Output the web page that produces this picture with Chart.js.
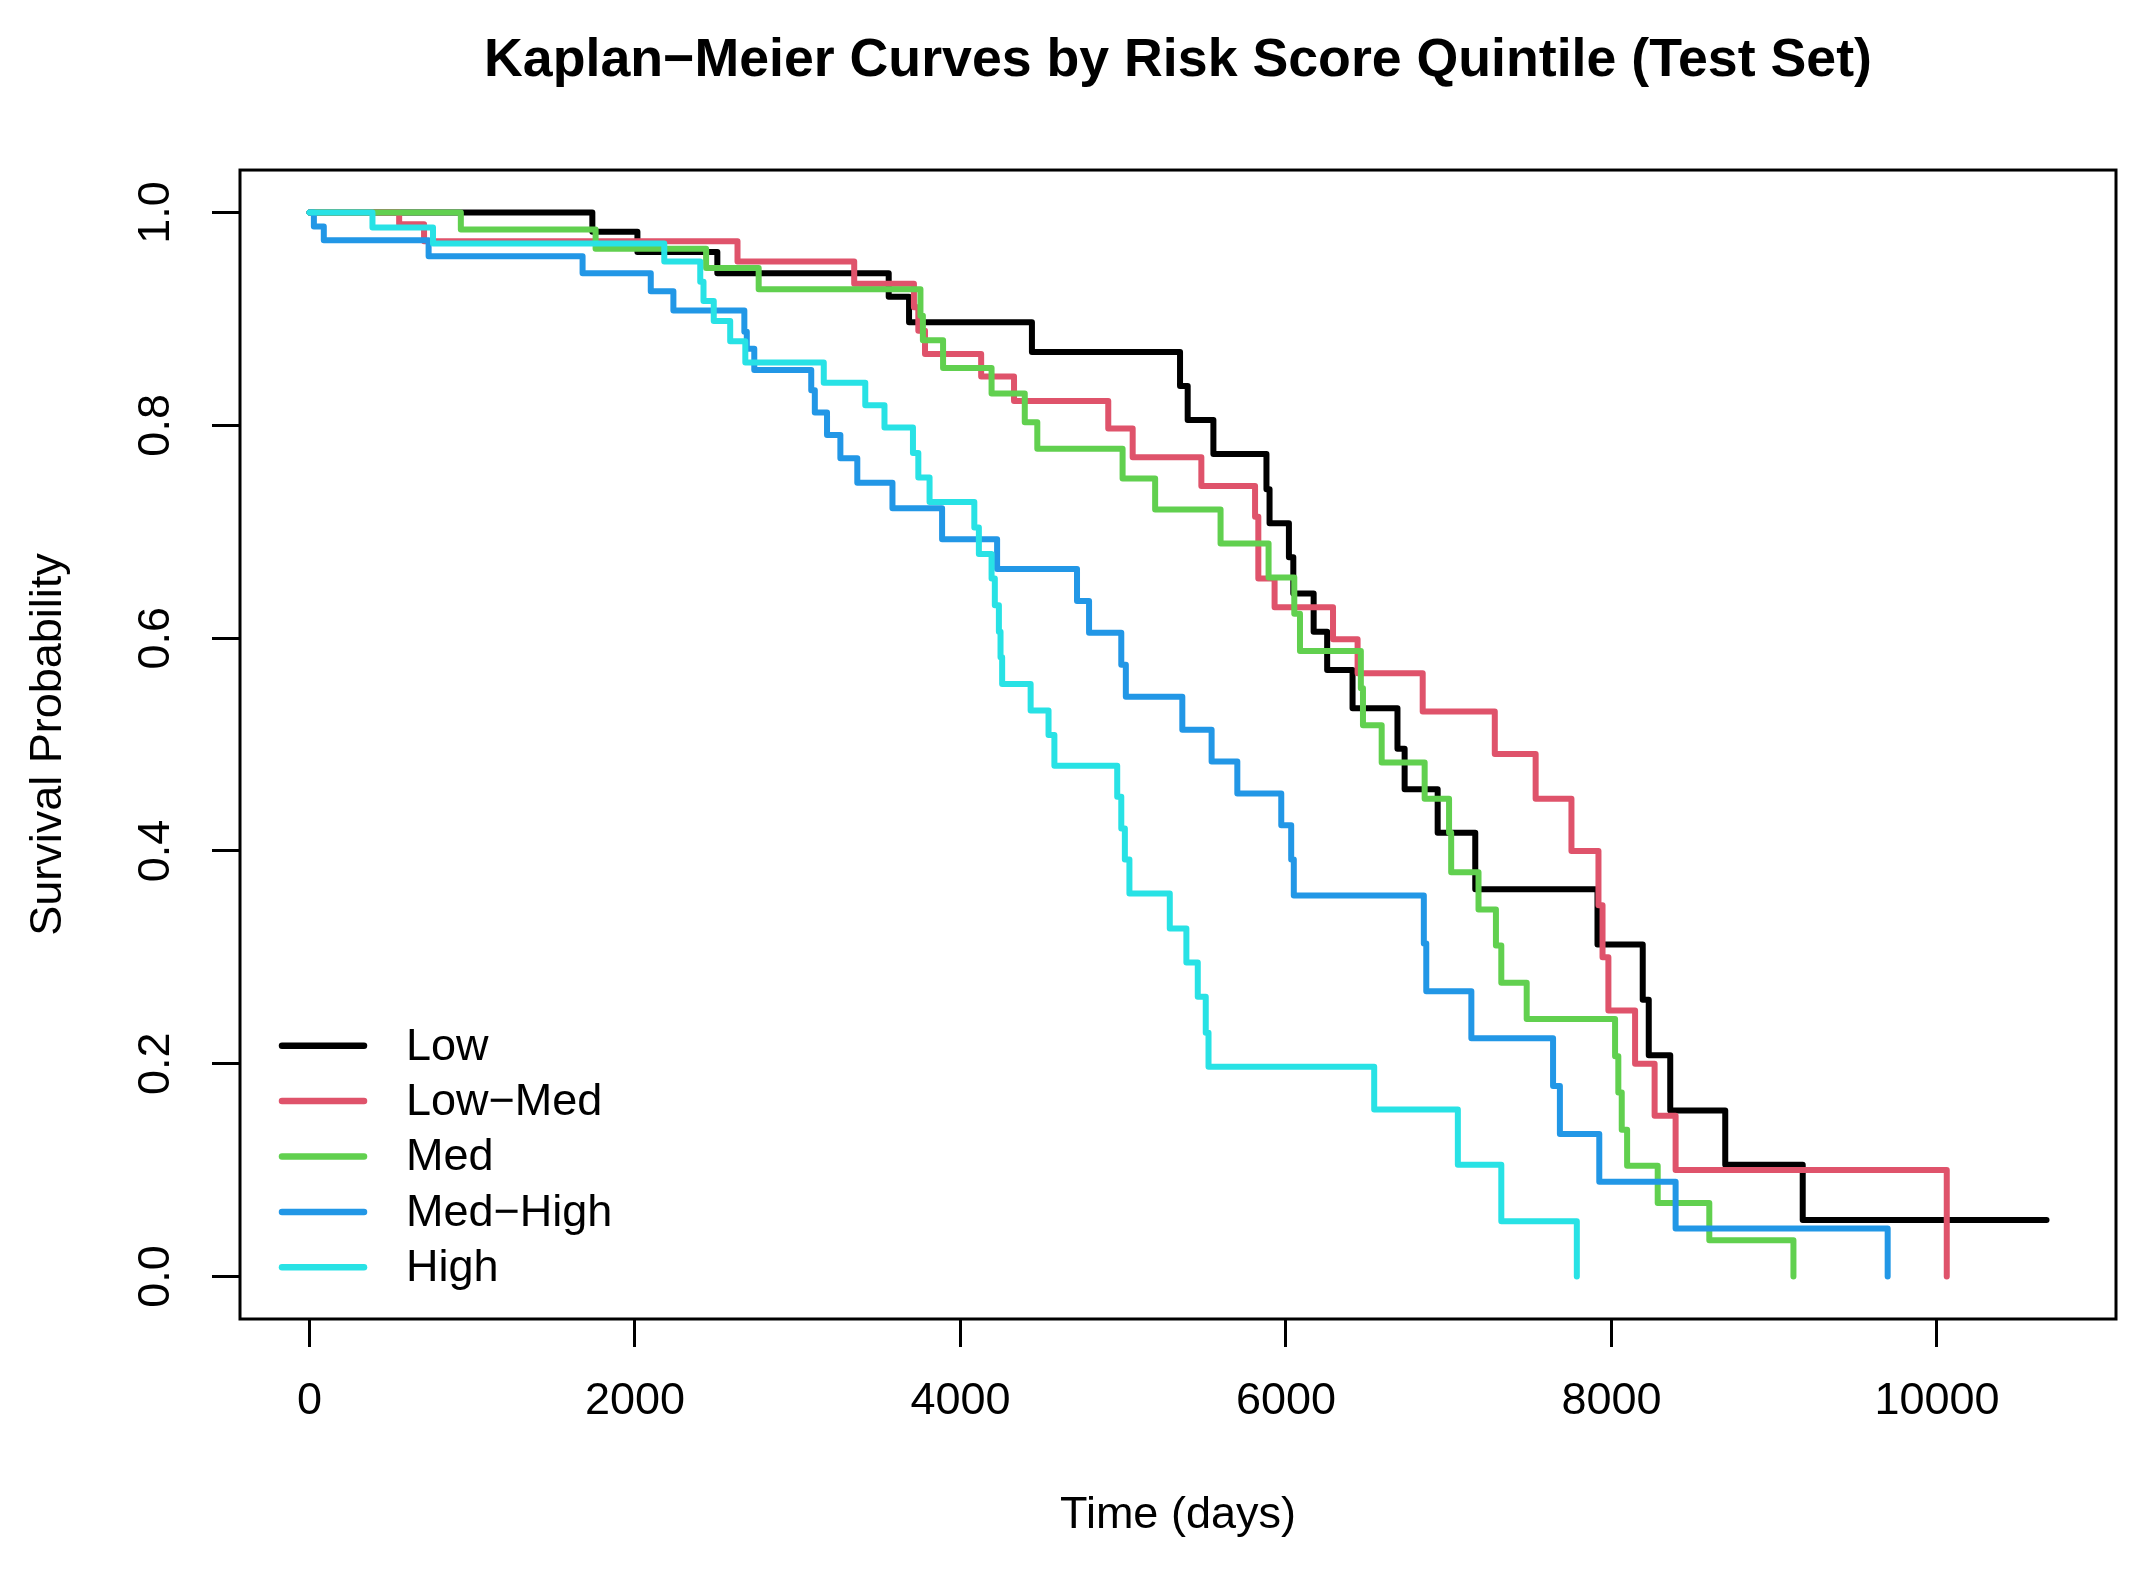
<!DOCTYPE html>
<html>
<head>
<meta charset="utf-8">
<title>Kaplan−Meier Curves by Risk Score Quintile (Test Set)</title>
<script src="https://cdn.jsdelivr.net/npm/chart.js@4.4.1/dist/chart.umd.min.js"></script>
<style>
    html, body { margin: 0; padding: 0; background: #ffffff; }
    #kmChart { display: block; }
</style>
</head>
<body>
<canvas id="kmChart" width="2139" height="1571"></canvas>
<script>
// ============================================
// KAPLAN-MEIER CURVES BY RISK SCORE QUINTILE
// ============================================

// ----------------------------------------
// Data
// ----------------------------------------

const groupNames = ["Low", "Low−Med", "Med", "Med−High", "High"];
const groupColors = ["#000000", "#DF536B", "#61D04F", "#2297E6", "#28E2E5"];

const lowTime = [0, 1738, 2015, 2506, 3559, 3684, 4439, 5349, 5396, 5554, 5880, 5899, 6018, 6045, 6170, 6253, 6409, 6685, 6729, 6932, 7163, 7914, 8192, 8229, 8361, 8699, 9175, 10673];
const lowSurv = [1.0, 0.982, 0.963, 0.943, 0.921, 0.897, 0.869, 0.837, 0.805, 0.773, 0.740, 0.708, 0.676, 0.642, 0.606, 0.570, 0.534, 0.496, 0.458, 0.417, 0.364, 0.312, 0.260, 0.208, 0.156, 0.105, 0.053, 0.053];

const lowMedTime = [0, 551, 704, 2630, 3347, 3714, 3741, 3782, 4127, 4329, 4908, 5058, 5480, 5810, 5830, 5930, 6289, 6440, 6840, 7283, 7534, 7754, 7920, 7945, 7981, 8145, 8265, 8394, 10060];
const lowMedSurv = [1.0, 0.989, 0.973, 0.954, 0.933, 0.911, 0.889, 0.867, 0.846, 0.823, 0.797, 0.770, 0.743, 0.714, 0.656, 0.629, 0.599, 0.567, 0.531, 0.491, 0.449, 0.400, 0.349, 0.300, 0.250, 0.200, 0.151, 0.100, 0.0];

const medTime = [0, 930, 1758, 2437, 2760, 3754, 3769, 3893, 4191, 4395, 4472, 4996, 5196, 5598, 5893, 6051, 6086, 6460, 6473, 6588, 6852, 7002, 7015, 7183, 7290, 7323, 7479, 8022, 8042, 8063, 8096, 8284, 8601, 9118];
const medSurv = [1.0, 0.984, 0.966, 0.948, 0.928, 0.903, 0.880, 0.854, 0.830, 0.803, 0.778, 0.750, 0.721, 0.689, 0.657, 0.623, 0.588, 0.553, 0.518, 0.483, 0.449, 0.417, 0.380, 0.345, 0.311, 0.276, 0.242, 0.207, 0.173, 0.138, 0.104, 0.069, 0.034, 0.0];

const medHighTime = [0, 27, 88, 732, 1678, 2097, 2236, 2672, 2687, 2733, 3083, 3105, 3180, 3262, 3366, 3582, 3887, 4225, 4716, 4790, 4988, 5016, 5363, 5543, 5701, 5971, 6032, 6048, 6847, 6862, 7139, 7641, 7683, 7925, 8394, 9697];
const medHighSurv = [1.0, 0.987, 0.974, 0.959, 0.943, 0.926, 0.908, 0.888, 0.872, 0.852, 0.833, 0.812, 0.791, 0.769, 0.746, 0.722, 0.693, 0.665, 0.635, 0.605, 0.575, 0.545, 0.514, 0.484, 0.454, 0.424, 0.392, 0.358, 0.313, 0.268, 0.224, 0.179, 0.134, 0.089, 0.045, 0.0];

const highTime = [0, 387, 759, 2180, 2401, 2421, 2484, 2585, 2678, 3160, 3415, 3533, 3708, 3741, 3810, 4085, 4113, 4191, 4211, 4236, 4246, 4256, 4431, 4541, 4577, 4963, 4988, 5010, 5038, 5286, 5388, 5458, 5507, 5524, 6542, 7056, 7323, 7787];
const highSurv = [1.0, 0.986, 0.971, 0.954, 0.935, 0.917, 0.898, 0.879, 0.859, 0.840, 0.819, 0.798, 0.774, 0.751, 0.728, 0.704, 0.679, 0.656, 0.631, 0.606, 0.582, 0.557, 0.532, 0.509, 0.480, 0.451, 0.421, 0.392, 0.360, 0.327, 0.295, 0.263, 0.229, 0.197, 0.157, 0.105, 0.052, 0.0];

const xTickValues = [0, 2000, 4000, 6000, 8000, 10000];
const yTickValues = [0, 0.2, 0.4, 0.6, 0.8, 1.0];

// ----------------------------------------
// Build datasets
// ----------------------------------------

const FONT = "'Liberation Sans', Arial, Helvetica, sans-serif";
const seriesTimes = [lowTime, lowMedTime, medTime, medHighTime, highTime];
const seriesSurv = [lowSurv, lowMedSurv, medSurv, medHighSurv, highSurv];

// R-style 4% axis expansion
const lastTime = Math.max(...seriesTimes.map((t) => t[t.length - 1]));
const xPad = lastTime * 0.04;

function toPoints(times, surv) {
    return times.map((t, i) => ({ x: t, y: surv[i] }));
}

const datasets = groupNames.map((name, i) => ({
    label: name,
    data: toPoints(seriesTimes[i], seriesSurv[i]),
    borderColor: groupColors[i],
    backgroundColor: groupColors[i],
    borderWidth: 6,
    stepped: "before",
    pointRadius: 0,
    fill: false,
    borderCapStyle: "round",
    borderJoinStyle: "round",
    order: groupNames.length - 1 - i   // later groups drawn on top, like R
}));

// ----------------------------------------
// Small plugins: plot frame + inset legend
// ----------------------------------------

const plotFrame = {
    id: "plotFrame",
    afterDatasetsDraw(chart) {
        const { ctx, chartArea: a } = chart;
        ctx.save();
        ctx.strokeStyle = "#000000";
        ctx.lineWidth = 3;
        ctx.strokeRect(a.left, a.top, a.right - a.left, a.bottom - a.top);
        ctx.restore();
    }
};

const insetLegend = {
    id: "insetLegend",
    afterDraw(chart) {
        const { ctx, chartArea: a } = chart;
        const sets = chart.data.datasets;
        const rowGap = 55.4;
        const lastRowY = a.bottom - 51.7;

        ctx.save();
        ctx.font = "45px " + FONT;
        ctx.textBaseline = "middle";
        ctx.textAlign = "left";
        sets.forEach((ds, i) => {
            const y = lastRowY - (sets.length - 1 - i) * rowGap;
            ctx.strokeStyle = ds.borderColor;
            ctx.lineWidth = 6.5;
            ctx.lineCap = "round";
            ctx.beginPath();
            ctx.moveTo(a.left + 42, y);
            ctx.lineTo(a.left + 124, y);
            ctx.stroke();
            ctx.fillStyle = "#000000";
            ctx.fillText(ds.label, a.left + 166, y + 1.5);
        });
        ctx.restore();
    }
};

// ----------------------------------------
// Chart
// ----------------------------------------

const tickGrid = {
    display: true,
    drawOnChartArea: false,
    drawTicks: true,
    tickLength: 28,
    tickWidth: 3,
    tickColor: "#000000"
};

new Chart(document.getElementById("kmChart"), {
    type: "line",
    data: { datasets },
    plugins: [plotFrame, insetLegend],
    options: {
        responsive: false,
        devicePixelRatio: 1,
        animation: false,
        events: [],
        layout: { padding: { top: 0, right: 23, bottom: 0, left: 0 } },
        plugins: {
            legend: { display: false },
            tooltip: { enabled: false },
            title: {
                display: true,
                text: "Kaplan−Meier Curves by Risk Score Quintile (Test Set)",
                color: "#000000",
                fullSize: false,
                font: { family: FONT, size: 53.7, weight: "bold" },
                padding: { top: 29, bottom: 76.6 }
            }
        },
        scales: {
            x: {
                type: "linear",
                min: -xPad,
                max: lastTime + xPad,
                afterBuildTicks: (scale) => {
                    scale.ticks = xTickValues.map((v) => ({ value: v }));
                },
                afterFit: (scale) => { scale.height = 252; },
                border: { display: false },
                grid: tickGrid,
                ticks: {
                    color: "#000000",
                    font: { family: FONT, size: 45 },
                    padding: 28,
                    minRotation: 0,
                    maxRotation: 0,
                    autoSkip: false,
                    callback: (v) => String(v)
                },
                title: {
                    display: true,
                    text: "Time (days)",
                    color: "#000000",
                    font: { family: FONT, size: 45 },
                    padding: { top: 0, bottom: 28 }
                }
            },
            y: {
                type: "linear",
                min: -0.04,
                max: 1.04,
                afterBuildTicks: (scale) => {
                    scale.ticks = yTickValues.map((v) => ({ value: v }));
                },
                afterFit: (scale) => { scale.width = 240; },
                border: { display: false },
                grid: tickGrid,
                ticks: {
                    color: "#000000",
                    font: { family: FONT, size: 45 },
                    padding: 24,
                    minRotation: 90,
                    maxRotation: 90,
                    crossAlign: "center",
                    autoSkip: false,
                    callback: (v) => Number(v).toFixed(1)
                },
                title: {
                    display: true,
                    text: "Survival Probability",
                    color: "#000000",
                    font: { family: FONT, size: 45 },
                    padding: { top: 22, bottom: 0 }
                }
            }
        }
    }
});
</script>
</body>
</html>
